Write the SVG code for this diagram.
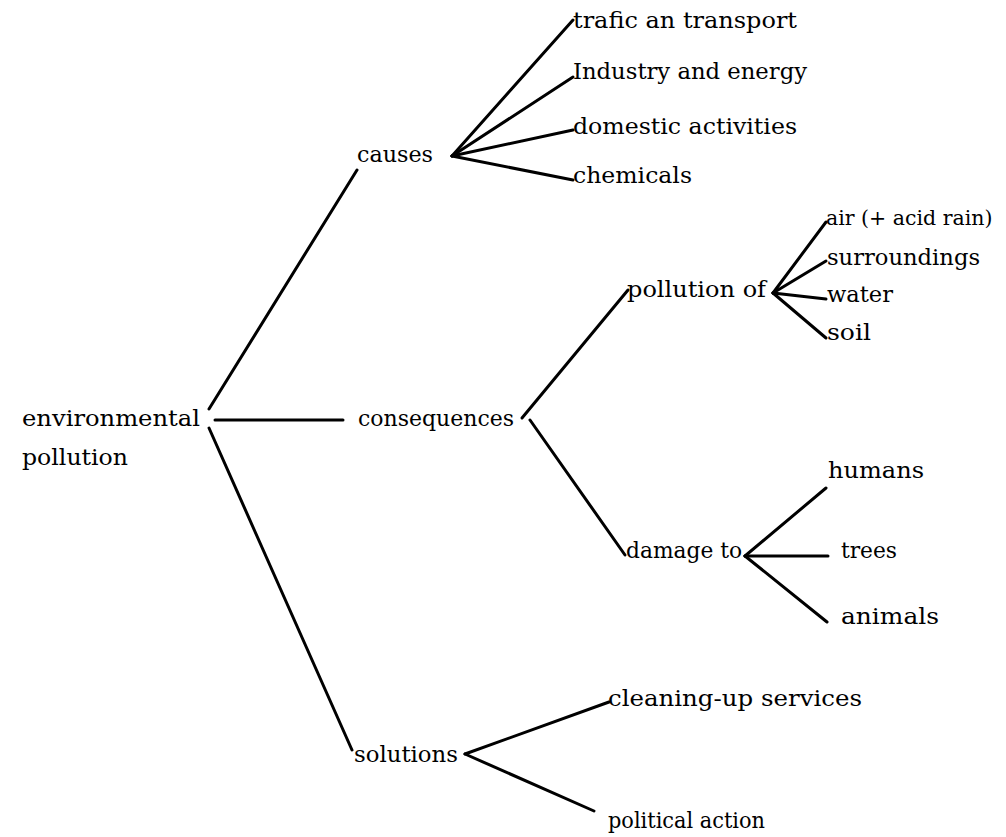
<svg xmlns="http://www.w3.org/2000/svg" width="1006" height="837" viewBox="0 0 1006 837">
<style>
text{font-family:"DejaVu Serif","Liberation Serif",serif;font-size:23px;fill:#000}
.c line{stroke:#000;stroke-width:3;stroke-linecap:round}
</style>
<rect width="1006" height="837" fill="#fff"/>
<g class="c" id="connectors">
<line x1="209" y1="409" x2="357" y2="170"/>
<line x1="215" y1="420" x2="343" y2="420" stroke-width="2"/>
<line x1="209" y1="428" x2="352" y2="750"/>
<line x1="452" y1="156" x2="573" y2="20"/>
<line x1="452" y1="156" x2="573" y2="77"/>
<line x1="452" y1="156" x2="573" y2="130"/>
<line x1="452" y1="156" x2="573" y2="180"/>
<line x1="522" y1="418" x2="628" y2="290"/>
<line x1="530" y1="420" x2="625" y2="555"/>
<line x1="773" y1="293" x2="826" y2="222"/>
<line x1="773" y1="293" x2="826" y2="261"/>
<line x1="773" y1="293" x2="826" y2="299"/>
<line x1="773" y1="293" x2="826" y2="338"/>
<line x1="745" y1="556" x2="826" y2="488"/>
<line x1="745" y1="556" x2="828" y2="556"/>
<line x1="745" y1="556" x2="827" y2="622"/>
<line x1="465" y1="754" x2="609" y2="702"/>
<line x1="465" y1="754" x2="594" y2="811"/>
</g>
<g id="n-env"><text x="22" y="426" textLength="178" lengthAdjust="spacingAndGlyphs">environmental</text><text x="22" y="465" textLength="106" lengthAdjust="spacingAndGlyphs">pollution</text></g>
<g id="n-causes"><text x="357" y="162" textLength="76" lengthAdjust="spacingAndGlyphs">causes</text></g>
<g id="n-trafic"><text x="573" y="28" textLength="224" lengthAdjust="spacingAndGlyphs">trafic an transport</text></g>
<g id="n-industry"><text x="573" y="79" textLength="234" lengthAdjust="spacingAndGlyphs">Industry and energy</text></g>
<g id="n-domestic"><text x="573" y="134" textLength="224" lengthAdjust="spacingAndGlyphs">domestic activities</text></g>
<g id="n-chemicals"><text x="573" y="183" textLength="119" lengthAdjust="spacingAndGlyphs">chemicals</text></g>
<g id="n-consequences"><text x="358" y="426" textLength="156" lengthAdjust="spacingAndGlyphs">consequences</text></g>
<g id="n-pollutionof"><text x="627" y="297" textLength="139" lengthAdjust="spacingAndGlyphs">pollution of</text></g>
<g id="n-air"><text x="826" y="225" style="font-size:20.5px">air (+ acid rain)</text></g>
<g id="n-surroundings"><text x="827" y="265" textLength="153" lengthAdjust="spacingAndGlyphs">surroundings</text></g>
<g id="n-water"><text x="827" y="302" textLength="66" lengthAdjust="spacingAndGlyphs">water</text></g>
<g id="n-soil"><text x="827" y="340" textLength="44" lengthAdjust="spacingAndGlyphs">soil</text></g>
<g id="n-damage"><text x="626" y="558" textLength="116" lengthAdjust="spacingAndGlyphs">damage to</text></g>
<g id="n-humans"><text x="828" y="478" textLength="96" lengthAdjust="spacingAndGlyphs">humans</text></g>
<g id="n-trees"><text x="841" y="558" textLength="56" lengthAdjust="spacingAndGlyphs">trees</text></g>
<g id="n-animals"><text x="841" y="624" textLength="98" lengthAdjust="spacingAndGlyphs">animals</text></g>
<g id="n-solutions"><text x="354" y="762" textLength="104" lengthAdjust="spacingAndGlyphs">solutions</text></g>
<g id="n-cleaning"><text x="608" y="706" textLength="254" lengthAdjust="spacingAndGlyphs">cleaning-up services</text></g>
<g id="n-political"><text x="608" y="828" textLength="157" lengthAdjust="spacingAndGlyphs">political action</text></g>
</svg>
